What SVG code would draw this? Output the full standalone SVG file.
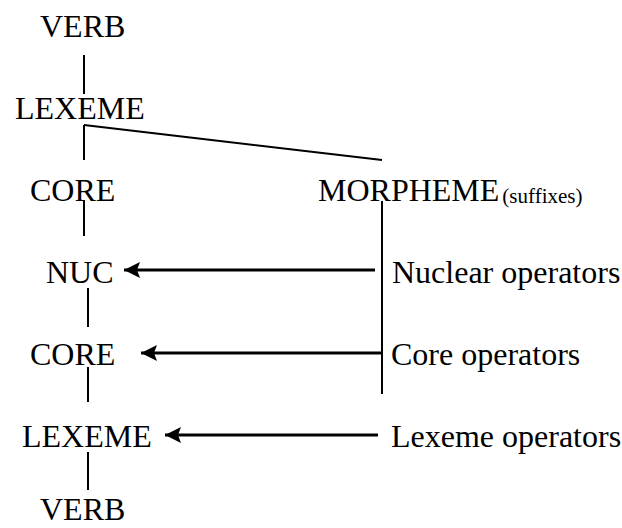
<svg xmlns="http://www.w3.org/2000/svg" width="622" height="528" viewBox="0 0 622 528">
  <style>
    .lbl { font-family: 'Liberation Serif', Tinos, 'Times New Roman', 'DejaVu Serif', serif; font-size: 32px; fill: #000; }
    .small { font-size: 21px; }
    .tree { stroke: #000; stroke-width: 2; fill: none; }
    .arrow { stroke: #000; stroke-width: 3; fill: none; marker-end: url(#head); }
  </style>
  <defs>
    <marker id="head" markerUnits="userSpaceOnUse" markerWidth="18" markerHeight="18" viewBox="0 0 18 18" refX="16" refY="9" orient="auto">
      <path d="M0,1 L16,9 L0,17 L3,9 Z" fill="#000"/>
    </marker>
  </defs>
  <rect width="622" height="528" fill="#fff"/>

  <g id="verb-top"><text class="lbl" x="40" y="37">VERB</text></g>
  <g id="lexeme-top"><text class="lbl" x="15" y="119">LEXEME</text></g>
  <g id="core-top"><text class="lbl" x="30" y="201">CORE</text></g>
  <g id="morpheme"><text class="lbl" x="318" y="201">MORPHEME<tspan class="small" dx="3" dy="2">(suffixes)</tspan></text></g>
  <g id="nuc"><text class="lbl" x="46" y="283">NUC</text></g>
  <g id="core-bottom"><text class="lbl" x="30" y="365">CORE</text></g>
  <g id="lexeme-bottom"><text class="lbl" x="22" y="447">LEXEME</text></g>
  <g id="verb-bottom"><text class="lbl" x="40" y="520">VERB</text></g>
  <g id="nuclear-ops"><text class="lbl" x="392" y="283">Nuclear operators</text></g>
  <g id="core-ops"><text class="lbl" x="391" y="365">Core operators</text></g>
  <g id="lexeme-ops"><text class="lbl" x="391" y="447">Lexeme operators</text></g>

  <g id="connectors">
    <line class="tree" x1="84" y1="55" x2="84" y2="94"/>
    <line class="tree" x1="84" y1="125" x2="84" y2="160"/>
    <line class="tree" x1="84" y1="125" x2="382" y2="160"/>
    <line class="tree" x1="84" y1="200" x2="84" y2="236"/>
    <line class="tree" x1="88" y1="288" x2="88" y2="327"/>
    <line class="tree" x1="88" y1="367" x2="88" y2="402"/>
    <line class="tree" x1="88" y1="452" x2="88" y2="490"/>
    <line class="tree" x1="382" y1="201" x2="382" y2="394"/>
    <line class="arrow" x1="375" y1="270" x2="124" y2="270"/>
    <line class="arrow" x1="382" y1="353" x2="141" y2="353"/>
    <line class="arrow" x1="378" y1="435" x2="165" y2="435"/>
  </g>
</svg>
